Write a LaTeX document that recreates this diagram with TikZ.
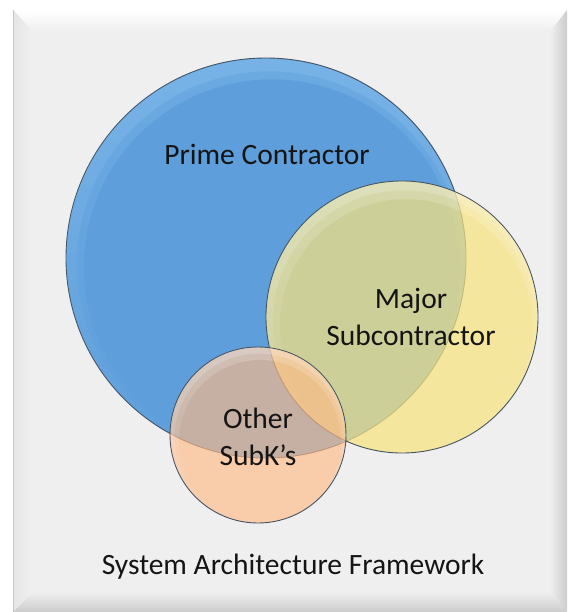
\documentclass[tikz,border=0pt]{standalone}
\usepackage{fontspec}
\setmainfont{Carlito}
\usepackage{tikz}
\usetikzlibrary{fadings}
\definecolor{face}{rgb}{0.941,0.937,0.941}
\definecolor{bevelgray}{rgb}{0.80,0.80,0.80}
\definecolor{bevelleft}{rgb}{0.90,0.90,0.90}
\definecolor{rimline}{rgb}{0.27,0.33,0.39}
\definecolor{primeblue}{rgb}{0.37,0.62,0.86}
\definecolor{primehi}{rgb}{0.66,0.86,1.0}
\definecolor{majoryellow}{rgb}{0.97,0.89,0.49}
\definecolor{otherpeach}{rgb}{1.0,0.73,0.52}
\tikzfading[name=rimfade, top color=transparent!30, bottom color=transparent!100]
\tikzset{
  venn/.style={circle, draw=rimline, line width=.9pt, inner sep=0pt},
  rim/.style={fill=white, fill opacity=.28, even odd rule, path fading=rimfade},
  lbl/.style={font=\fontsize{29.5}{37}\selectfont, align=center, text=black!92}
}

\begin{document}
\begin{tikzpicture}[x=1pt,y=-1pt]
\useasboundingbox (0,0) rectangle (569,612);
% bevelled panel
\fill[face] (13,10) rectangle (567,612);
\shade[top color=white, bottom color=face] (13,10) -- (567,10) -- (550,32) -- (33,32) -- cycle;
\shade[left color=bevelleft, right color=face] (13,10) -- (33,32) -- (33,592) -- (13,612) -- cycle;
\shade[left color=face, right color=bevelgray] (567,10) -- (567,612) -- (550,592) -- (550,32) -- cycle;
\shade[top color=face, bottom color=bevelgray] (33,592) -- (550,592) -- (567,612) -- (13,612) -- cycle;
\draw[gray!45, line width=1pt] (13.5,10) -- (13.5,612);

% the three circles, drawn back to front, each with a soft top rim
\node[venn, minimum size=400pt, fill=primeblue] (prime) at (266,258) {};
\fill[rim, fill=primehi] (prime.center) circle (199.5pt) ([shift={(4,6)}]prime.center) circle (193pt);
\fill[rim, fill=primehi] (prime.center) circle (199.5pt) ([shift={(6,9)}]prime.center) circle (188pt);
\node[venn, minimum size=272pt, fill=majoryellow, fill opacity=.72] (major) at (402,317) {};
\fill[rim] (major.center) circle (135.5pt) ([shift={(2,4)}]major.center) circle (131pt);
\fill[rim] (major.center) circle (135.5pt) ([shift={(4,8)}]major.center) circle (126pt);
\node[venn, minimum size=176pt, fill=otherpeach, fill opacity=.65] (other) at (258,435) {};
\fill[rim] (other.center) circle (87.5pt) ([shift={(1,3)}]other.center) circle (84.5pt);
\fill[rim] (other.center) circle (87.5pt) ([shift={(2,6)}]other.center) circle (81pt);

% labels
\node[lbl, anchor=base] (primelbl) at (267,165) {Prime Contractor};
\node[lbl] (majorlbl) at (411,317) {Major\\Subcontractor};
\node[lbl] (otherlbl) at (258,437) {Other\\SubK’s};
\node[lbl, anchor=base] (caption) at (293,574) {System Architecture Framework};
\end{tikzpicture}
\end{document}
